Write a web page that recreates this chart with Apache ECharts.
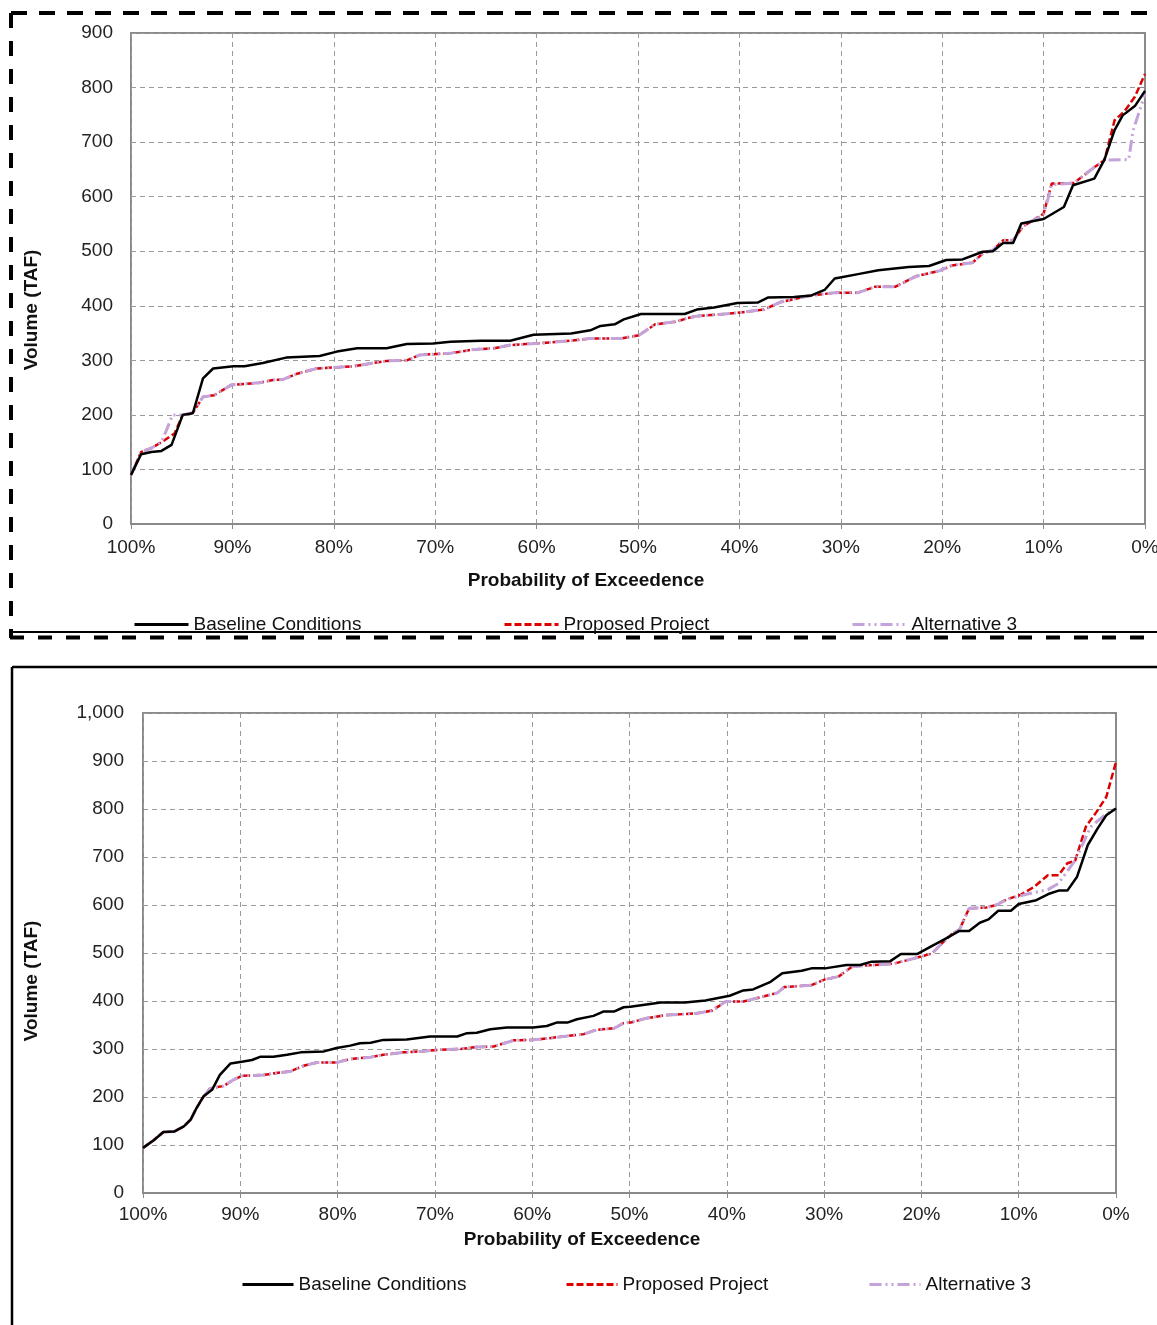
<!DOCTYPE html>
<html>
<head>
<meta charset="utf-8">
<script src="https://cdn.jsdelivr.net/npm/echarts@6/dist/echarts.min.js"></script>
<style>
  html, body { margin: 0; padding: 0; background: #fff; }
  #chart { width: 1157px; height: 1325px; }
</style>
</head>
<body>
<div id="chart"></div>
<script>
// ---------- DATA ----------
const seriesNames = ['Baseline Conditions', 'Proposed Project', 'Alternative 3'];
const xTitle = 'Probability of Exceedence';
const yTitle = 'Volume (TAF)';

// Top chart: [probability of exceedence (%), volume (TAF)]
const topBaseline = [[100,90],[99,128],[98,132],[97,134],[96,145],[94.9,200],[93.9,203],[92.9,267],[91.9,285],[89.9,289],[88.8,289],[87,295],[84.7,305],[81.4,308],[79.7,316],[77.7,322],[74.8,322],[72.8,330],[70.2,331],[68.5,334],[65.5,336],[62.6,336],[60.3,347],[56.6,349],[54.7,355],[53.7,363],[52.3,366],[51.4,375],[49.7,385],[45.4,385],[44.2,393],[42.5,397],[40.2,405],[38.2,406],[37.2,415],[34.6,416],[32.9,419],[31.6,429],[30.6,450],[28.3,458],[26.3,465],[23.3,471],[21.3,473],[19.6,484],[18,485],[16,499],[15,500],[14,515],[13,515],[12.2,551],[10,559],[8,581],[7.1,621],[5,633],[4,668],[3,722],[2.2,749],[1,766],[0,794]];
const topProposed = [[100,90],[99,132],[98,139],[96.9,151],[95.7,166],[94.9,200],[93.9,204],[92.9,233],[91.8,236],[90.1,255],[87.3,259],[86,264],[85,265],[83.7,275],[81.7,285],[78.1,289],[74.8,299],[72.8,300],[71.5,310],[68.5,313],[66.2,320],[64.2,322],[62.6,328],[60,331],[56.6,336],[54.7,340],[51.7,340],[49.9,346],[48.3,366],[46.2,371],[45.2,377],[44.2,381],[40.2,387],[37.6,393],[35.9,407],[33.2,418],[30.6,424],[28.3,424],[26.6,435],[24.6,435],[22.6,454],[20.3,464],[19,474],[17,479],[16,496],[15,502],[14,520],[13,520],[12,546],[11,557],[10,569],[9.2,624],[7,625],[5,654],[4,667],[3,740],[2,757],[1,783],[0,825]];
const topAlt3 = [[100,90],[99,132],[98,139],[97,150],[96.5,172],[95.9,200],[94.9,200],[93.9,204],[92.9,233],[91.8,236],[90.1,255],[87.3,259],[86,264],[85,265],[83.7,275],[81.7,285],[78.1,289],[74.8,299],[72.8,300],[71.5,310],[68.5,313],[66.2,320],[64.2,322],[62.6,328],[60,331],[56.6,336],[54.7,340],[51.7,340],[49.9,346],[48.3,366],[46.2,371],[45.2,377],[44.2,381],[40.2,387],[37.6,393],[35.9,407],[33.2,418],[30.6,424],[28.3,424],[26.6,435],[24.6,435],[22.6,454],[20.3,464],[19,474],[17,479],[16,496],[15,502],[14,520],[13,520],[12,546],[11,557],[10,566],[9.2,622],[7,625],[5,654],[4,667],[1.6,668],[1.2,720],[0,788]];

// Bottom chart
const bottomBaseline = [[100,94],[98.9,110],[97.9,127],[96.8,128],[95.8,139],[95.1,153],[94.5,177],[93.8,201],[92.9,215],[92.1,246],[91,270],[89.7,274],[88.8,277],[87.9,284],[86.6,284],[85.2,288],[83.8,293],[81.4,295],[80.1,302],[78.7,307],[77.7,312],[76.6,313],[75.3,319],[72.9,320],[70.5,326],[67.7,326],[66.7,333],[65.7,334],[64.3,341],[62.6,345],[59.9,345],[58.5,348],[57.5,355],[56.4,355],[55.4,362],[53.7,369],[52.7,378],[51.6,378],[50.6,387],[49.9,388],[46.8,397],[44.3,397],[42.2,401],[39.7,411],[38.3,422],[37.3,424],[35.5,440],[34.3,458],[32.3,463],[31.3,468],[29.9,468],[27.7,475],[26.3,475],[25.1,482],[23.2,483],[22.1,498],[20.4,498],[18.9,515],[17.5,530],[16.1,546],[15.1,546],[14,563],[13.1,570],[12.1,588],[10.8,588],[10,602],[8.2,610],[6.8,624],[5.9,630],[5,630],[4,659],[2.9,725],[1.9,759],[1,787],[0,801]];
const bottomProposed = [[100,94],[98.9,110],[97.9,127],[96.8,128],[95.8,139],[95.1,153],[94.5,177],[93.8,200],[93.1,218],[91.7,223],[90.7,236],[89.8,244],[87.6,246],[85.9,251],[84.9,253],[83.5,265],[82.1,272],[80.1,272],[78.7,279],[76.6,283],[75.3,288],[73.2,293],[71.5,295],[69.8,298],[67.4,300],[65.7,304],[64,305],[61.9,318],[59.9,319],[58.5,322],[56.4,327],[54.7,331],[53.4,340],[51.6,343],[50.6,354],[49.9,355],[48.3,364],[46.1,371],[43.2,374],[41.5,380],[40.1,399],[38.3,399],[36.5,408],[34.8,417],[34.1,429],[31.3,433],[29.9,445],[28.5,451],[27.1,472],[24.9,475],[22.8,478],[20.7,489],[18.9,499],[17.9,520],[16.8,541],[16.1,548],[15.1,593],[13.3,595],[12.3,600],[11.2,612],[9.8,621],[8.4,638],[7,662],[5.9,662],[5,687],[4.2,692],[3.1,763],[2,794],[1,825],[0,898]];
const bottomAlt3 = [[100,94],[98.9,110],[97.9,127],[96.8,128],[95.8,139],[95.1,153],[94.5,177],[93.8,200],[93.1,218],[91.7,223],[90.7,236],[89.8,244],[87.6,246],[85.9,251],[84.9,253],[83.5,265],[82.1,272],[80.1,272],[78.7,279],[76.6,283],[75.3,288],[73.2,293],[71.5,295],[69.8,298],[67.4,300],[65.7,304],[64,305],[61.9,318],[59.9,319],[58.5,322],[56.4,327],[54.7,331],[53.4,340],[51.6,343],[50.6,354],[49.9,355],[48.3,364],[46.1,371],[43.2,374],[41.5,380],[40.1,399],[38.3,399],[36.5,408],[34.8,417],[34.1,429],[31.3,433],[29.9,445],[28.5,451],[27.1,472],[24.9,475],[22.8,478],[20.7,489],[18.9,499],[17.9,520],[16.8,541],[16.1,548],[15.1,593],[13.3,595],[12.3,600],[11.2,612],[10,618],[9.1,623],[7,632],[5.9,645],[4.2,693],[2.6,763],[1,790],[0,801]];

// ---------- STYLE ----------
const FONT = '"Liberation Sans", Arial, sans-serif';
const AXIS_GRAY = '#8a8a8a';
const GRID_GRAY = '#9a9a9a';
const BLACK = '#000000';
const RED = '#dd0000';
const LAV = '#c4a2da';
const LAV_DASH = [12, 4, 2, 4, 2, 4];

const chart = echarts.init(document.getElementById('chart'), null, { renderer: 'canvas' });

function xAxisCfg(gridIndex, margin) {
  return {
    type: 'value', gridIndex, min: 0, max: 100, interval: 10, inverse: true,
    axisLine: { show: true, lineStyle: { color: AXIS_GRAY, width: 2 } },
    axisTick: { show: true, length: 5, lineStyle: { color: AXIS_GRAY, width: 1 } },
    axisLabel: { formatter: v => v + '%', fontFamily: FONT, fontSize: 19, color: '#222', margin, hideOverlap: false },
    splitLine: { show: true, lineStyle: { color: GRID_GRAY, width: 1, type: [5, 4] } }
  };
}
function yAxisCfg(gridIndex, max, margin, fmt) {
  return {
    type: 'value', gridIndex, min: 0, max, interval: 100,
    axisLine: { show: true, lineStyle: { color: AXIS_GRAY, width: 2 } },
    axisTick: { show: true, length: 5, lineStyle: { color: AXIS_GRAY, width: 1 } },
    axisLabel: { formatter: fmt, fontFamily: FONT, fontSize: 19, color: '#222', margin },
    splitLine: { show: true, lineStyle: { color: GRID_GRAY, width: 1, type: [5, 4] } }
  };
}
function lineSeries(name, data, idx, color, width, dash, z) {
  return {
    name, type: 'line', data, xAxisIndex: idx, yAxisIndex: idx,
    symbol: 'none', showSymbol: false, smooth: false, z,
    lineStyle: { color, width, type: dash },
    itemStyle: { color },
    emphasis: { disabled: true }, animation: false
  };
}
function legendCfg(name, left, cy, w) {
  return {
    data: [name], left, top: cy - 7, itemWidth: w, itemHeight: 14, padding: 0,
    selectedMode: false,
    lineStyle: { width: 3 },
    itemStyle: { opacity: 0, color: 'rgba(0,0,0,0)', borderWidth: 0 },
    textStyle: { fontFamily: FONT, fontSize: 19, color: '#111' }
  };
}
function titleText(txt, x, y, rot) {
  return {
    type: 'text', x, y, rotation: rot || 0,
    style: { text: txt, fontFamily: FONT, fontSize: 19, fontWeight: 'bold', fill: '#111', align: 'center', verticalAlign: 'middle' }
  };
}
function gline(x1, y1, x2, y2, w, dash) {
  return { type: 'line', shape: { x1, y1, x2, y2 }, style: { stroke: '#000', lineWidth: w, lineDash: dash || null }, silent: true };
}

const option = {
  backgroundColor: '#ffffff',
  animation: false,
  grid: [
    { left: 131, top: 33, width: 1014, height: 491, show: true, borderColor: AXIS_GRAY, borderWidth: 2, backgroundColor: 'transparent', containLabel: false, outerBoundsMode: 'none' },
    { left: 143, top: 713, width: 973, height: 480, show: true, borderColor: AXIS_GRAY, borderWidth: 2, backgroundColor: 'transparent', containLabel: false, outerBoundsMode: 'none' }
  ],
  xAxis: [ xAxisCfg(0, 14), xAxisCfg(1, 12) ],
  yAxis: [ yAxisCfg(0, 900, 18, v => String(v)), yAxisCfg(1, 1000, 19, v => v.toLocaleString('en-US')) ],
  legend: [
    legendCfg(seriesNames[0], 133, 622, 54),
    legendCfg(seriesNames[1], 503, 622, 54),
    legendCfg(seriesNames[2], 851, 622, 54),
    legendCfg(seriesNames[0], 241, 1282, 51),
    legendCfg(seriesNames[1], 565, 1282, 51),
    legendCfg(seriesNames[2], 868, 1282, 51)
  ],
  series: [
    lineSeries(seriesNames[1], topProposed, 0, RED, 2.5, [7, 3], 2),
    lineSeries(seriesNames[2], topAlt3, 0, LAV, 3, LAV_DASH, 3),
    lineSeries(seriesNames[0], topBaseline, 0, BLACK, 2.5, 'solid', 4),
    lineSeries(seriesNames[1], bottomProposed, 1, RED, 2.5, [7, 3], 2),
    lineSeries(seriesNames[2], bottomAlt3, 1, LAV, 3, LAV_DASH, 3),
    lineSeries(seriesNames[0], bottomBaseline, 1, BLACK, 2.5, 'solid', 4)
  ],
  graphic: [
    // top dashed frame
    gline(11, 13, 1160, 13, 4, [16, 12]),
    gline(11, 13, 11, 638, 4, [15, 13]),
    gline(10, 632, 1160, 632, 2),
    gline(10, 637.5, 1160, 637.5, 4, [14, 14]),
    // bottom solid frame
    gline(12, 667, 1160, 667, 2.5),
    gline(12, 667, 12, 1330, 2.5),
    // axis titles
    titleText(yTitle, 32, 310, Math.PI / 2),
    titleText(xTitle, 586, 581),
    titleText(yTitle, 32, 981, Math.PI / 2),
    titleText(xTitle, 582, 1240)
  ]
};
chart.setOption(option);
</script>
</body>
</html>
